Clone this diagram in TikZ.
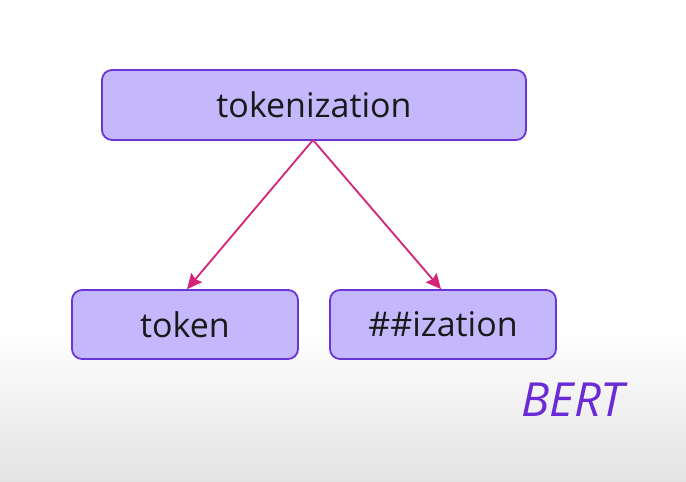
\documentclass[tikz,border=0pt]{standalone}
\usepackage{fontspec}
\setmainfont{Open Sans}
\usetikzlibrary{arrows.meta}
\definecolor{boxfill}{HTML}{C5B7FC}
\definecolor{boxline}{HTML}{6B34D6}
\definecolor{arrowc}{HTML}{D6237A}
\definecolor{bertc}{HTML}{6A2BD6}
\definecolor{bgbottom}{HTML}{E3E3E3}
\begin{document}
\begin{tikzpicture}[x=1pt,y=-1pt,
  tokbox/.style={draw=boxline, fill=boxfill, line width=1.8pt, rounded corners=10pt, inner sep=0pt, font=\fontsize{34}{40}\selectfont, text=black!90},
  link/.style={draw=arrowc, line width=1.8pt, -{Stealth[length=15pt,width=14pt,inset=2pt]}}]
\useasboundingbox (0,0) rectangle (686,482);
\fill[white] (0,0) rectangle (686,330);
\shade[top color=white, bottom color=bgbottom] (0,330) rectangle (686,482);
\node[tokbox, minimum width=424pt, minimum height=70pt] (top) at (314,105) {tokenization};
\node[tokbox, minimum width=226pt, minimum height=69pt] (left) at (185,324.5) {token};
\node[tokbox, minimum width=226pt, minimum height=69pt] (right) at (443,324.5) {\#\#ization};
\coordinate (src) at (313,140);
\draw[link] (src) -- (left.north -| 187,0);
\draw[link] (src) -- (right.north -| 441,0);
\node[text=bertc, font=\fontsize{47}{56}\selectfont\itshape, anchor=center] (bert) at (573,400) {BERT};
\end{tikzpicture}
\end{document}
